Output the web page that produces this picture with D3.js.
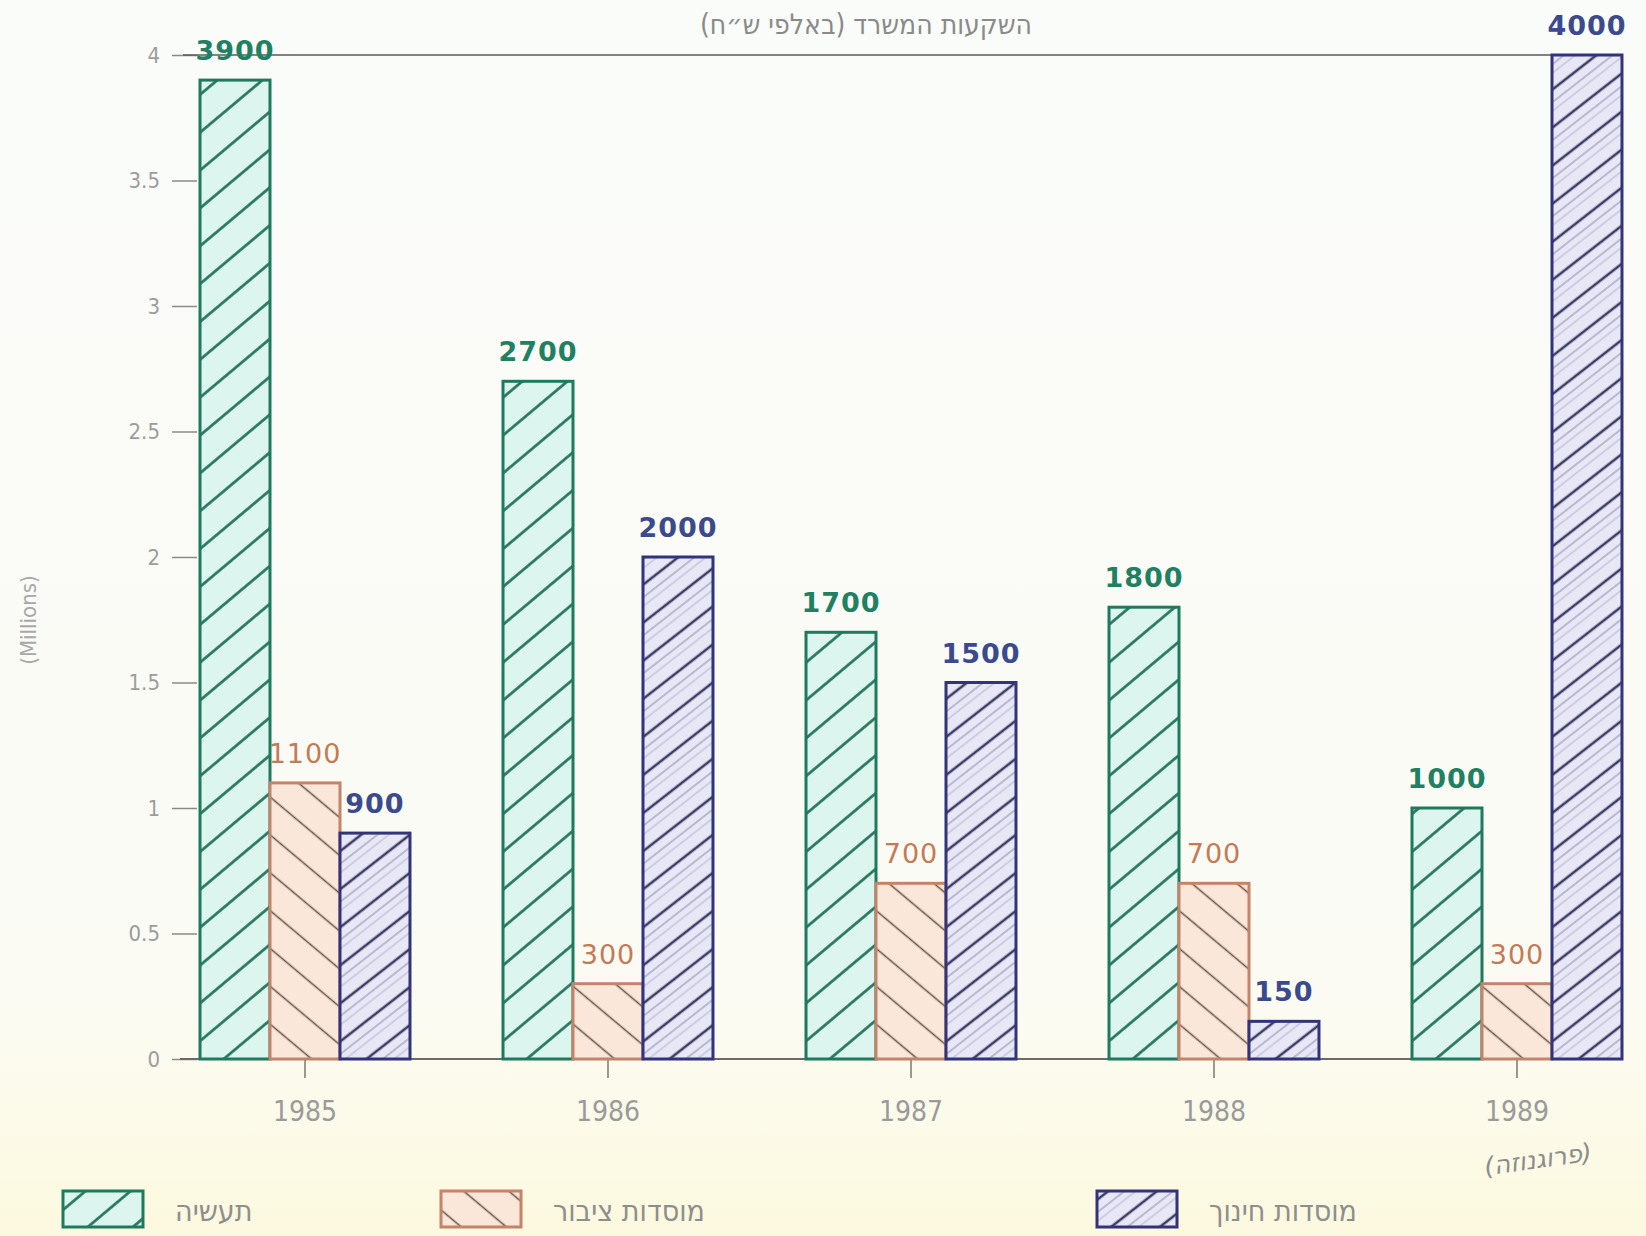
<!DOCTYPE html>
<html>
<head>
<meta charset="utf-8">
<script src="https://cdn.jsdelivr.net/npm/d3@7"></script>
<style>
  body { margin: 0; background: #fbfbf5; }
  svg { display: block; }
</style>
</head>
<body>
<script>
// data (thousands of NIS)
const years = ['1985', '1986', '1987', '1988', '1989'];
const seriesKeys = ['industry', 'public', 'education'];
const seriesNames = ['תעשיה', 'מוסדות ציבור', 'מוסדות חינוך'];
const industry = [3900, 2700, 1700, 1800, 1000];
const publicInst = [1100, 300, 700, 700, 300];
const education = [900, 2000, 1500, 150, 4000];
const yTicks = [0, 0.5, 1, 1.5, 2, 2.5, 3, 3.5, 4];

const values = { industry: industry, public: publicInst, education: education };

const WIDTH = 1646, HEIGHT = 1236;

const colors = {
  industry:  { stroke: '#1e7a5c', fill: '#dcf5ef', hatch: '#1f6f55', label: '#1f8062' },
  public:    { stroke: '#c2846a', fill: '#fbe6da', hatch: '#6e5548', label: '#c47a55' },
  education: { stroke: '#33337c', fill: '#e7e7f6', hatch: '#3c3c64', label: '#3a4a8c' }
};

const svg = d3.select('body').append('svg')
  .attr('width', WIDTH)
  .attr('height', HEIGHT);

const defs = svg.append('defs');

// paper background
const bg = defs.append('linearGradient').attr('id', 'paper')
  .attr('x1', 0).attr('y1', 0).attr('x2', 0).attr('y2', 1);
bg.append('stop').attr('offset', '0%').attr('stop-color', '#fafcfa');
bg.append('stop').attr('offset', '80%').attr('stop-color', '#fbfbf4');
bg.append('stop').attr('offset', '100%').attr('stop-color', '#fdf9df');
svg.append('rect').attr('width', WIDTH).attr('height', HEIGHT).attr('fill', 'url(#paper)');

// hatch patterns
function hatch(id, c, angle, size, lines) {
  const p = defs.append('pattern')
    .attr('id', id)
    .attr('patternUnits', 'userSpaceOnUse')
    .attr('width', 10).attr('height', size)
    .attr('patternTransform', `rotate(${angle})`);
  p.append('rect').attr('width', 10).attr('height', size).attr('fill', c.fill);
  lines.forEach(l => {
    p.append('line')
      .attr('x1', 0).attr('x2', 10)
      .attr('y1', l.y).attr('y2', l.y)
      .attr('stroke', l.color || c.hatch)
      .attr('stroke-width', l.w);
  });
}
hatch('pat-industry', colors.industry, -40, 29, [{ y: 14.5, w: 2.6 }]);
hatch('pat-public', colors.public, 40, 29, [{ y: 14.5, w: 1.6 }]);
hatch('pat-education', colors.education, -38, 30, [
  { y: 7, w: 2.6 },
  { y: 17, w: 1, color: '#8a8ab0' },
  { y: 24, w: 0.8, color: '#a4a4c4' }
]);

// scales
const x0 = d3.scaleBand()
  .domain(years)
  .range([153.5, 1668.5])
  .paddingInner(0.307)
  .paddingOuter(0.1535);

const x1 = d3.scaleBand()
  .domain(seriesKeys)
  .range([0, x0.bandwidth()]);

const y = d3.scaleLinear()
  .domain([0, 4])
  .range([1059, 55]);

// y axis (ticks only)
const yAxis = svg.append('g')
  .attr('transform', 'translate(197,0)')
  .call(d3.axisLeft(y).tickValues(yTicks).tickSize(25).tickPadding(12).tickFormat(d => String(d)));
yAxis.select('.domain').remove();
yAxis.selectAll('line').attr('stroke', '#8a8a8a').attr('stroke-width', 1.5);
yAxis.selectAll('text')
  .attr('fill', '#9c9c9c')
  .style('font-family', 'DejaVu Sans Condensed, DejaVu Sans, sans-serif')
  .style('font-size', '22px');

// x axis
const xAxis = svg.append('g')
  .attr('transform', `translate(0,${y(0)})`)
  .call(d3.axisBottom(x0).tickSize(19).tickPadding(23));
xAxis.select('.domain').remove();
xAxis.selectAll('line').attr('stroke', '#777').attr('stroke-width', 1.5);
xAxis.selectAll('text')
  .attr('fill', '#9a9a9a')
  .style('font-family', 'DejaVu Sans Condensed, DejaVu Sans, sans-serif')
  .style('font-size', '28px');

const rightEdge = x0('1989') + x1('education') + x1.bandwidth();

// baseline and top rule at 4
svg.append('line')
  .attr('x1', 180).attr('x2', rightEdge)
  .attr('y1', y(0)).attr('y2', y(0))
  .attr('stroke', '#6a6a6a').attr('stroke-width', 2);
svg.append('line')
  .attr('x1', 183).attr('x2', x0('1989') + x1('education'))
  .attr('y1', y(4)).attr('y2', y(4))
  .attr('stroke', '#5a5a5a').attr('stroke-width', 1.6);

// bars
const groups = svg.append('g').selectAll('g')
  .data(years)
  .join('g')
  .attr('transform', d => `translate(${x0(d)},0)`);

groups.selectAll('rect')
  .data((yr, i) => seriesKeys.map(k => ({ key: k, v: values[k][i] })))
  .join('rect')
  .attr('x', d => x1(d.key))
  .attr('width', x1.bandwidth())
  .attr('y', d => y(d.v / 1000))
  .attr('height', d => y(0) - y(d.v / 1000))
  .attr('fill', d => `url(#pat-${d.key})`)
  .attr('stroke', d => colors[d.key].stroke)
  .attr('stroke-width', 3);

groups.selectAll('text.val')
  .data((yr, i) => seriesKeys.map(k => ({ key: k, v: values[k][i] })))
  .join('text')
  .attr('class', 'val')
  .attr('x', d => x1(d.key) + x1.bandwidth() / 2)
  .attr('y', d => y(d.v / 1000) - 20)
  .attr('text-anchor', 'middle')
  .attr('fill', d => colors[d.key].label)
  .style('font-family', 'DejaVu Sans, sans-serif')
  .style('font-size', '27px')
  .style('font-weight', d => d.key === 'public' ? 'normal' : 'bold')
  .style('letter-spacing', '1px')
  .text(d => d.v);

// title
svg.append('text')
  .attr('x', 866).attr('y', 34)
  .attr('text-anchor', 'middle')
  .attr('direction', 'rtl')
  .attr('fill', '#8a8a8a')
  .style('font-family', 'DejaVu Sans Condensed, DejaVu Sans, sans-serif')
  .style('font-size', '28px')
  .text('השקעות המשרד (באלפי ש״ח)');

// y title
svg.append('text')
  .attr('transform', 'translate(36,620) rotate(-90)')
  .attr('text-anchor', 'middle')
  .attr('fill', '#a8a8a8')
  .style('font-family', 'DejaVu Sans Condensed, DejaVu Sans, sans-serif')
  .style('font-size', '22px')
  .text('(Millions)');

// forecast note under 1989
svg.append('text')
  .attr('transform', `translate(${x0('1989') + x0.bandwidth() / 2 + 22},1168) rotate(-8)`)
  .attr('text-anchor', 'middle')
  .attr('direction', 'rtl')
  .attr('fill', '#8c8c8c')
  .style('font-family', 'DejaVu Sans, sans-serif')
  .style('font-style', 'italic')
  .style('font-size', '25px')
  .text('(פרוגנוזה)');

// legend
const legendX = [63, 441, 1097];
const legend = svg.append('g').selectAll('g')
  .data(seriesKeys)
  .join('g')
  .attr('transform', (d, i) => `translate(${legendX[i]},1191)`);
legend.append('rect')
  .attr('width', 80).attr('height', 36)
  .attr('fill', d => `url(#pat-${d})`)
  .attr('stroke', d => colors[d].stroke)
  .attr('stroke-width', 3);
legend.append('text')
  .attr('x', 112).attr('y', 30)
  .attr('fill', '#8e8e8e')
  .style('font-family', 'DejaVu Sans Condensed, DejaVu Sans, sans-serif')
  .style('font-size', '30px')
  .text((d, i) => seriesNames[i]);
</script>
</body>
</html>
